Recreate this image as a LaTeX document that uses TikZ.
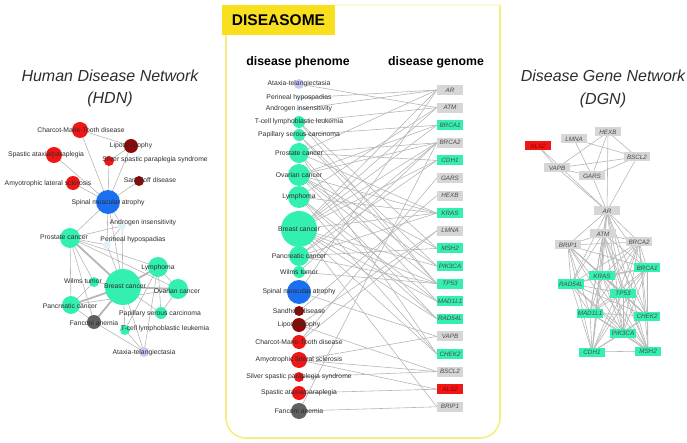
\documentclass[tikz,border=0pt]{standalone}
\usepackage{fontspec}
\setmainfont{Liberation Sans}
\usetikzlibrary{backgrounds}

\definecolor{hgreen}{RGB}{52,240,176}
\definecolor{hblue}{RGB}{26,112,240}
\definecolor{hred}{RGB}{240,22,22}
\definecolor{hdarkred}{RGB}{145,8,8}
\definecolor{hgray}{RGB}{96,96,96}
\definecolor{lavender}{RGB}{200,200,246}
\definecolor{pale}{RGB}{222,242,250}
\definecolor{genegray}{RGB}{214,214,214}
\definecolor{edgegray}{RGB}{182,182,182}
\definecolor{txtgray}{RGB}{45,45,45}
\definecolor{genetxt}{RGB}{75,75,75}
\definecolor{alstxt}{RGB}{150,0,0}
\definecolor{panelyellow}{RGB}{246,238,130}
\definecolor{boxyellow}{RGB}{249,224,30}

\tikzset{
  dot/.style={circle, inner sep=0pt},
  dlab/.style={font=\fontsize{6.8}{7}\selectfont, text=txtgray, inner sep=0pt},
  gene/.style={minimum width=26pt, minimum height=10pt, inner sep=0pt, font=\fontsize{6.3}{7}\selectfont\itshape},
  link/.style={draw=edgegray, line width=0.6pt},
  heavy/.style={draw=edgegray, line width=1.8pt},
  bigtitle/.style={font=\fontsize{16}{18}\selectfont\itshape, text=txtgray},
  colhead/.style={font=\fontsize{12.3}{14}\selectfont\bfseries, text=black},
}

\begin{document}
\begin{tikzpicture}[x=1pt,y=-1pt]
\useasboundingbox (0,0) rectangle (687,443);

% titles
\node[bigtitle] (hdn) at (110,76) {Human Disease Network};
\node[bigtitle] (hdnabbr) at (110,99) {(HDN)};
\node[bigtitle] (dgn) at (603,76) {Disease Gene Network};
\node[bigtitle] (dgnabbr) at (603,100) {(DGN)};

% diseasome
\node[fill=boxyellow, minimum width=113pt, minimum height=30pt, inner sep=0pt,
  font=\fontsize{15.5}{17}\selectfont\bfseries] (dsome) at (278.5,20) {DISEASOME};
\node[colhead] (phenome) at (298,62) {disease phenome};
\node[colhead] (genome) at (436,62) {disease genome};

\foreach \y/\r/\c/\n in {84/5/lavender/Ataxia, 98/3/pale/Perineal, 109/3/pale/Androgen,
  122/6/hgreen/Tcell, 135/6/hgreen/Papillary, 153/10/hgreen/Prostate, 175/11/hgreen/Ovarian,
  197/11/hgreen/Lymphoma, 229/18/hgreen/Breast, 256/10/hgreen/Pancreatic, 272/6/hgreen/Wilms,
  292/12/hblue/SMA, 311/5/hdarkred/Sandhoff, 325/7/hdarkred/Lipo, 342/7/hred/CMT,
  360/8/hred/ALS, 377/5/hred/Silver, 393/7/hred/Spastic, 411/8/hgray/Fanconi}
  \node[dot, fill=\c, minimum size={2*\r pt}] (p\n) at (299,\y) {};
\foreach \n/\t in {Ataxia/Ataxia-telangiectasia, Perineal/Perineal hypospadias,
  Androgen/Androgen insensitivity, Tcell/T-cell lymphoblastic leukemia,
  Papillary/Papillary serous carcinoma, Prostate/Prostate cancer, Ovarian/Ovarian cancer,
  Lymphoma/Lymphoma, Breast/Breast cancer, Pancreatic/Pancreatic cancer, Wilms/Wilms tumor,
  SMA/Spinal muscular atrophy, Sandhoff/Sandhoff disease, Lipo/Lipodystrophy,
  CMT/Charcot-Marie-Tooth disease, ALS/Amyotrophic lateral sclerosis,
  Silver/Silver spastic paraplegia syndrome, Spastic/{Spastic ataxia/paraplegia},
  Fanconi/Fanconi anemia}
  \node[dlab] (pl\n) at (p\n) {\t};

\foreach \g/\c/\t [count=\i from 0] in {AR/genegray/genetxt, ATM/genegray/genetxt,
  BRCA1/hgreen/genetxt, BRCA2/genegray/genetxt, CDH1/hgreen/genetxt, GARS/genegray/genetxt,
  HEXB/genegray/genetxt, KRAS/hgreen/genetxt, LMNA/genegray/genetxt, MSH2/hgreen/genetxt,
  PIK3CA/hgreen/genetxt, TP53/hgreen/genetxt, MAD1L1/hgreen/genetxt, RAD54L/hgreen/genetxt,
  VAPB/genegray/genetxt, CHEK2/hgreen/genetxt, BSCL2/genegray/genetxt, ALS2/hred/alstxt,
  BRIP1/genegray/genetxt}
  \node[gene, fill=\c, text=\t] (m\g) at (450,{90+17.6*\i}) {\g};

% HDN
\foreach \n/\x/\y/\r/\c in {CMT/80/130/8/hred, Lipo/131/146/7/hdarkred, Spastic/54/155/8/hred,
  Silver/109/161/5/hred, Sandhoff/139/181/5/hdarkred, ALS/73/183/7/hred, SMA/108/202/12/hblue,
  Androgen/122/226/4/pale, Prostate/70/238/10/hgreen, Perineal/107/245/4/pale,
  Lymphoma/158/267/10/hgreen, Wilms/94/282/5/hgreen, Breast/123/287/18/hgreen,
  Ovarian/178/289/10/hgreen, Pancreatic/71/305/9/hgreen, Papillary/161/313/6/hgreen,
  Fanconi/94/322/7/hgray, Tcell/125/330/5/hgreen, Ataxia/144/352/5/lavender}
  \node[dot, fill=\c, minimum size={2*\r pt}] (h\n) at (\x,\y) {};
\foreach \n/\x/\y/\t in {CMT/81/130/Charcot-Marie-Tooth disease, Lipo/131/146/Lipodystrophy,
  Spastic/46/155/{Spastic ataxia/paraplegia}, Silver/155/160/Silver spastic paraplegia syndrome,
  Sandhoff/150/180/Sandhoff disease, ALS/48/184/Amyotrophic lateral sclerosis,
  SMA/108/203/Spinal muscular atrophy, Androgen/143/223/Androgen insensitivity,
  Prostate/64/237/Prostate cancer, Perineal/133/240/Perineal hypospadias,
  Lymphoma/158/268/Lymphoma, Wilms/83/281/Wilms tumor, Breast/125/286/Breast cancer,
  Ovarian/177/291/Ovarian cancer, Pancreatic/70/306/Pancreatic cancer,
  Papillary/160/314/Papillary serous carcinoma, Fanconi/94/323/Fanconi anemia,
  Tcell/165/329/T-cell lymphoblastic leukemia, Ataxia/144/353/Ataxia-telangiectasia}
  \node[dlab] (hl\n) at (\x,\y) {\t};

% DGN
\foreach \g/\x/\y/\c/\t in {ALS2/538/146/hred/alstxt, LMNA/574/139/genegray/genetxt,
  HEXB/608/132/genegray/genetxt, BSCL2/637/157/genegray/genetxt, VAPB/557/168/genegray/genetxt,
  GARS/592/176/genegray/genetxt, AR/607/211/genegray/genetxt, ATM/603/234/genegray/genetxt,
  BRIP1/568/245/genegray/genetxt, BRCA2/639/242/genegray/genetxt, BRCA1/647/268/hgreen/genetxt,
  KRAS/602/276/hgreen/genetxt, RAD54L/571/284/hgreen/genetxt, TP53/623/293/hgreen/genetxt,
  MAD1L1/590/313/hgreen/genetxt, CHEK2/647/316/hgreen/genetxt, PIK3CA/623/333/hgreen/genetxt,
  CDH1/592/352/hgreen/genetxt, MSH2/648/351/hgreen/genetxt}
  \node[gene, fill=\c, text=\t, minimum height=9pt] (d\g) at (\x,\y) {\g};

\begin{scope}[on background layer]
\draw[draw=panelyellow, line width=1.6pt, rounded corners=20pt] (226,35) -- (226,438) -- (500,438) -- (500,5);
\draw[draw=panelyellow!35, line width=1.2pt] (500,5) -- (335,5);
\foreach \p/\g in {Ataxia/ATM, Perineal/AR, Androgen/AR, Tcell/ATM, Tcell/TP53, Tcell/MSH2,
  Papillary/BRCA1, Papillary/TP53, Papillary/PIK3CA, Prostate/AR, Prostate/BRCA2, Prostate/CHEK2,
  Prostate/MAD1L1, Prostate/CDH1, Prostate/KRAS, Ovarian/BRCA1, Ovarian/BRCA2, Ovarian/KRAS,
  Ovarian/PIK3CA, Ovarian/MSH2, Ovarian/TP53, Ovarian/RAD54L, Lymphoma/ATM, Lymphoma/MAD1L1,
  Lymphoma/RAD54L, Lymphoma/KRAS, Lymphoma/CHEK2, Breast/AR, Breast/ATM, Breast/BRCA1,
  Breast/BRCA2, Breast/CDH1, Breast/PIK3CA, Breast/TP53, Breast/RAD54L, Breast/CHEK2,
  Breast/BRIP1, Breast/KRAS, Breast/MAD1L1, Pancreatic/BRCA2, Pancreatic/KRAS, Pancreatic/TP53,
  Pancreatic/MSH2, Pancreatic/CDH1, Wilms/BRCA2, Wilms/TP53, SMA/AR, SMA/VAPB, Sandhoff/HEXB,
  Lipo/LMNA, Lipo/BSCL2, CMT/LMNA, CMT/GARS, ALS/VAPB, ALS/ALS2, ALS/BSCL2, Silver/BSCL2,
  Spastic/ALS2, Fanconi/BRCA2, Fanconi/BRIP1}
  \path[link] (p\p.center) -- (m\g.west);
\foreach \a/\b in {CMT/Lipo, CMT/SMA, Spastic/SMA, Silver/SMA, Lipo/SMA, Lipo/Silver,
  Sandhoff/SMA, ALS/SMA, SMA/Androgen, SMA/Perineal, SMA/Prostate, SMA/Breast,
  Androgen/Prostate, Perineal/Prostate, Androgen/Breast, Perineal/Breast, Androgen/Perineal,
  Prostate/Lymphoma, Prostate/Ovarian, Prostate/Wilms, Prostate/Pancreatic, Prostate/Fanconi,
  Breast/Wilms, Breast/Papillary, Breast/Tcell, Breast/Ataxia, Lymphoma/Ovarian,
  Lymphoma/Papillary, Lymphoma/Tcell, Lymphoma/Ataxia, Ovarian/Papillary, Ovarian/Pancreatic,
  Pancreatic/Fanconi, Pancreatic/Wilms, Tcell/Ataxia, Fanconi/Ataxia}
  \path[link] (h\a.center) -- (h\b.center);
\foreach \a/\b in {Prostate/Breast, Breast/Lymphoma, Breast/Ovarian, Breast/Pancreatic, Breast/Fanconi}
  \path[heavy] (h\a.center) -- (h\b.center);
\foreach \a/\b in {LMNA/GARS, LMNA/BSCL2, HEXB/VAPB, HEXB/GARS, HEXB/AR, HEXB/BSCL2,
  VAPB/BSCL2, VAPB/GARS, GARS/BSCL2, GARS/AR, BSCL2/AR, VAPB/AR, ALS2/VAPB, ALS2/AR}
  \path[link] (d\a.center) -- (d\b.center);
\foreach \a [count=\i] in {AR,ATM,BRIP1,BRCA2,BRCA1,KRAS,RAD54L,TP53,MAD1L1,CHEK2,PIK3CA,CDH1,MSH2}
  \foreach \b [count=\j] in {AR,ATM,BRIP1,BRCA2,BRCA1,KRAS,RAD54L,TP53,MAD1L1,CHEK2,PIK3CA,CDH1,MSH2}
    {\ifnum\j>\i \path[link] (d\a.center) -- (d\b.center); \fi}
\end{scope}
\end{tikzpicture}
\end{document}
